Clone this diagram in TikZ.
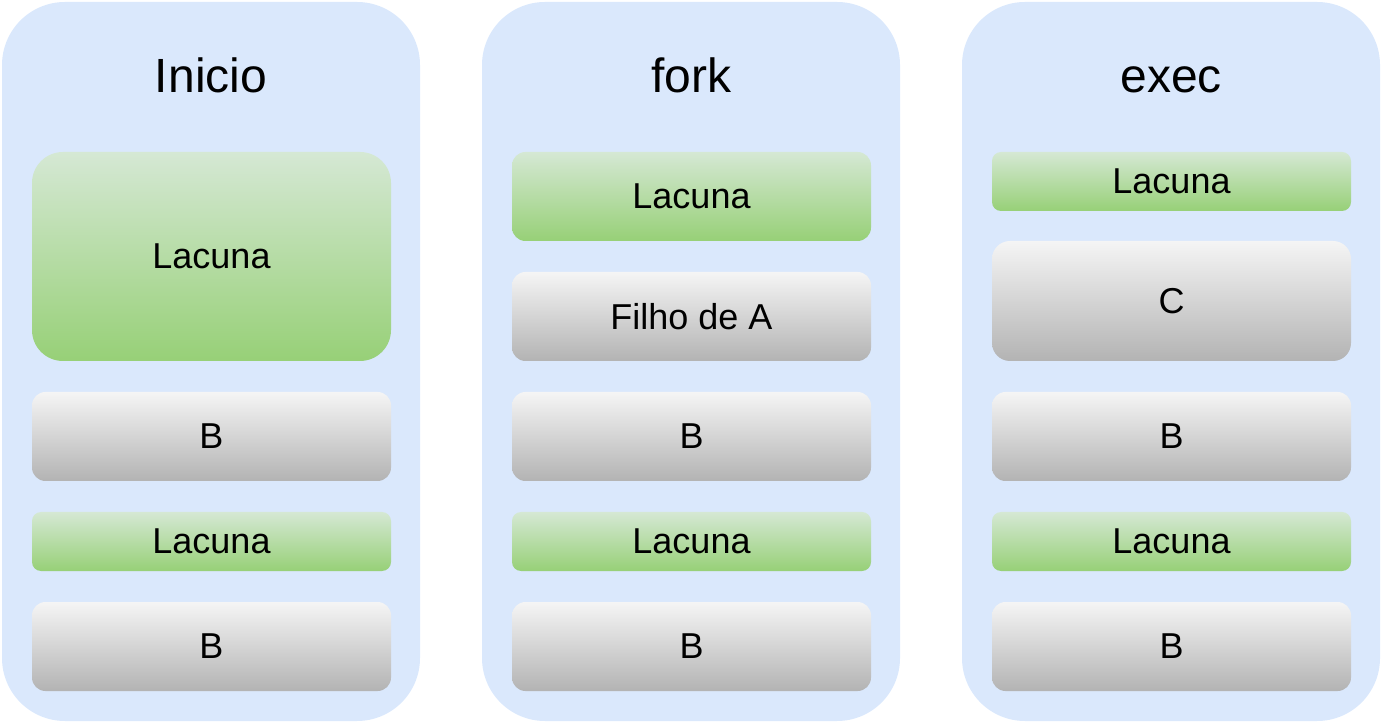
\documentclass[tikz,border=0pt]{standalone}
\usepackage{fontspec}
\setmainfont{Liberation Sans}
\definecolor{colbg}{HTML}{DAE8FC}
\definecolor{grnTop}{HTML}{D5E8D4}
\definecolor{grnBot}{HTML}{97D077}
\definecolor{gryTop}{HTML}{F5F5F5}
\definecolor{gryBot}{HTML}{B3B3B3}
\begin{document}
\begin{tikzpicture}[x=0.5pt,y=-0.5pt,
  colbox/.style={fill=colbg, draw=none, rounded corners=31.5pt, minimum width=209pt, minimum height=359.5pt, inner sep=0pt},
  grnbox/.style={top color=grnTop, bottom color=grnBot, draw=none, minimum width=179.5pt, inner sep=0pt, font=\fontsize{18}{20}\selectfont},
  grybox/.style={top color=gryTop, bottom color=gryBot, draw=none, minimum width=179.5pt, inner sep=0pt, font=\fontsize{18}{20}\selectfont},
  hA/.style={minimum height=44.5pt, rounded corners=6.75pt},
  hB/.style={minimum height=29.5pt, rounded corners=4.5pt},
  hC/.style={minimum height=60pt, rounded corners=9pt},
  hD/.style={minimum height=104.5pt, rounded corners=15.5pt},
  coltitle/.style={font=\fontsize{24}{28}\selectfont, anchor=base, inner sep=0pt}]
\useasboundingbox (0,0) rectangle (1386,726);
% columns
\node[colbox] (c1) at (211,361.5) {};
\node[colbox] (c2) at (691,361.5) {};
\node[colbox] (c3) at (1171,361.5) {};
% titles
\node[coltitle] (t1) at (211,93) {Inicio};
\node[coltitle] (t2) at (691,93) {fork};
\node[coltitle] (t3) at (1171,93) {exec};
% column 1
\node[grnbox,hD] (a1) at (211.5,256.5) {Lacuna};
\node[grybox,hA] (a2) at (211.5,436.5) {B};
\node[grnbox,hB] (a3) at (211.5,541.5) {Lacuna};
\node[grybox,hA] (a4) at (211.5,646.5) {B};
% column 2
\node[grnbox,hA] (b1) at (691.5,196.5) {Lacuna};
\node[grybox,hA] (b2) at (691.5,316.5) {Filho de A};
\node[grybox,hA] (b3) at (691.5,436.5) {B};
\node[grnbox,hB] (b4) at (691.5,541.5) {Lacuna};
\node[grybox,hA] (b5) at (691.5,646.5) {B};
% column 3
\node[grnbox,hB] (d1) at (1171.5,181.5) {Lacuna};
\node[grybox,hC] (d2) at (1171.5,301) {C};
\node[grybox,hA] (d3) at (1171.5,436.5) {B};
\node[grnbox,hB] (d4) at (1171.5,541.5) {Lacuna};
\node[grybox,hA] (d5) at (1171.5,646.5) {B};
\end{tikzpicture}
\end{document}
